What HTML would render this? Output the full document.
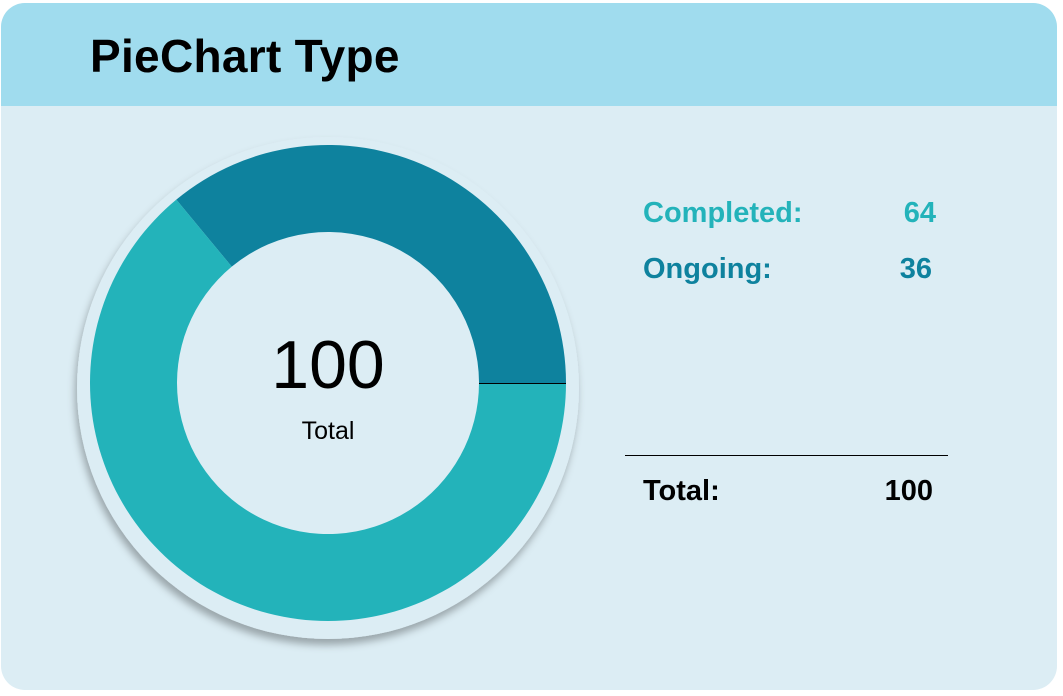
<!DOCTYPE html>
<html><head><meta charset="utf-8"><style>
body{margin:0;width:1063px;height:696px;background:#fff;overflow:hidden;font-family:"Liberation Sans",sans-serif}
#card{position:absolute;left:1px;top:3px;width:1056px;height:687px;border-radius:24px;background:#dcedf4;overflow:hidden}
#hdr{position:absolute;left:0;top:0;width:100%;height:103px;background:#a0dcee}
#title{position:absolute;left:89px;top:26px;font-size:46px;font-weight:bold;color:#000;margin:0;letter-spacing:0.3px}
.row{position:absolute;font-size:29px;font-weight:bold}
.val{text-align:right;width:100px}
</style></head><body>
<div id="card">
<div id="hdr"><h1 id="title">PieChart Type</h1></div>
<svg id="chart" width="1056" height="687" style="position:absolute;left:0;top:0">
<defs><filter id="sh" x="-20%" y="-20%" width="140%" height="140%"><feDropShadow dx="-2" dy="6" stdDeviation="4" flood-color="#000" flood-opacity="0.3"/></filter></defs>
<circle cx="327" cy="385" r="251" fill="#dcedf4" filter="url(#sh)"/>
<g id="slices"></g>
<text x="327" y="385" text-anchor="middle" font-size="68" fill="#000">100</text>
<text x="327" y="436" text-anchor="middle" font-size="25" fill="#000">Total</text>
<line x1="624" y1="452.5" x2="947" y2="452.5" stroke="#000" stroke-width="1"/>
</svg>
<div class="row" style="left:642px;top:194px;color:#23b3ba">Completed:</div>
<div class="row val" style="left:835px;top:194px;color:#23b3ba">64</div>
<div class="row" style="left:642px;top:250px;color:#0e829e">Ongoing:</div>
<div class="row val" style="left:831px;top:250px;color:#0e829e">36</div>
<div class="row" style="left:642px;top:472px;color:#000">Total:</div>
<div class="row val" style="left:832px;top:472px;color:#000">100</div>
</div>
<script>
const categories=["Ongoing","Completed"];
const values=[36,64];
const colors=["#0e829e","#23b3ba"];
const cx=327,cy=380,R=238,r=151;
const total=values.reduce((a,b)=>a+b,0);
const g=document.getElementById('slices');
let a0=0;
function pt(rad,a){return [cx+rad*Math.cos(a),cy-rad*Math.sin(a)];}
values.forEach((v,i)=>{
  const a1=a0+v/total*2*Math.PI;
  const large=(a1-a0)>Math.PI?1:0;
  const [x0,y0]=pt(R,a0),[x1,y1]=pt(R,a1),[x2,y2]=pt(r,a1),[x3,y3]=pt(r,a0);
  const p=document.createElementNS('http://www.w3.org/2000/svg','path');
  p.setAttribute('d',`M${x0},${y0}A${R},${R} 0 ${large} 0 ${x1},${y1}L${x2},${y2}A${r},${r} 0 ${large} 1 ${x3},${y3}Z`);
  p.setAttribute('fill',colors[i]);
  
  
  g.appendChild(p);
  a0=a1;
});
const l=document.createElementNS('http://www.w3.org/2000/svg','line');
l.setAttribute('x1',cx+r);l.setAttribute('y1',cy+0.5);l.setAttribute('x2',cx+R);l.setAttribute('y2',cy+0.5);
l.setAttribute('stroke','#000');l.setAttribute('stroke-width','1');


g.appendChild(l);
</script>
</body></html>
